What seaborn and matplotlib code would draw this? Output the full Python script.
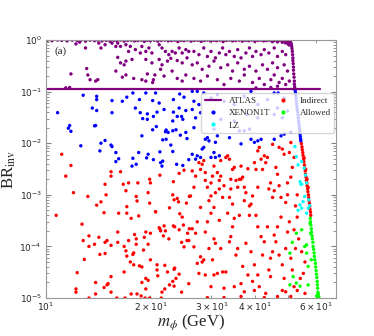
import matplotlib
matplotlib.use("Agg")
import matplotlib.pyplot as plt
from matplotlib.lines import Line2D
import pandas as pd
import seaborn as sns

sns.set_style("ticks")

# ATLAS limit on the invisible branching ratio
atlas_m = [10.0, 61.6]
atlas_br = [0.11, 0.11]

# (m_phi [GeV], BR_inv)
purple_pts = [
    # dense band near BR = 1
    (10.1, 0.99), (10.4, 0.97), (10.8, 0.995), (11.1, 0.98), (11.5, 0.96), (11.9, 0.99),
    (12.3, 0.975), (12.6, 0.985), (13.0, 0.95), (13.4, 0.99), (13.8, 0.97), (14.1, 0.995),
    (14.5, 0.96), (14.9, 0.985), (15.3, 0.94), (15.7, 0.99), (16.0, 0.97), (16.4, 0.995),
    (16.8, 0.95), (17.2, 0.98), (17.6, 0.99), (18.0, 0.96), (18.4, 0.975), (18.8, 0.995),
    (19.2, 0.94), (19.6, 0.985), (20.0, 0.97), (20.5, 0.99), (21.0, 0.95), (21.5, 0.98),
    (22.0, 0.995), (22.5, 0.96), (23.0, 0.975), (23.5, 0.99), (24.0, 0.93), (24.5, 0.985),
    (25.0, 0.97), (25.6, 0.995), (26.2, 0.95), (26.8, 0.98), (27.4, 0.99), (28.0, 0.94),
    (28.6, 0.975), (29.2, 0.995), (29.8, 0.96), (30.4, 0.985), (31.0, 0.97), (31.7, 0.99),
    (32.4, 0.93), (33.1, 0.98), (33.8, 0.995), (34.5, 0.96), (35.2, 0.975), (36.0, 0.99),
    (36.8, 0.95), (37.6, 0.985), (38.4, 0.97), (39.2, 0.995), (40.0, 0.94), (40.8, 0.98),
    (41.6, 0.99), (42.4, 0.96), (43.2, 0.975), (44.0, 0.995), (44.8, 0.95), (45.6, 0.985),
    (46.4, 0.97), (47.2, 0.99), (48.0, 0.96), (48.8, 0.98), (49.6, 0.97), (50.2, 0.95),
    (45.0, 0.93), (46.5, 0.92), (48.0, 0.90), (49.0, 0.88), (49.8, 0.85), (50.2, 0.80),
    # sparse points
    (12.2, 0.84), (12.5, 0.91), (13.0, 0.70), (14.2, 0.87), (14.4, 0.70), (14.8, 0.81),
    (15.5, 0.87), (15.9, 0.75), (16.1, 0.87), (16.4, 0.75), (17.0, 0.81), (17.3, 0.60),
    (17.5, 0.75), (18.1, 0.65), (18.7, 0.56), (18.9, 0.75), (19.4, 0.60), (19.8, 0.70),
    (20.2, 0.56), (21.2, 0.81), (21.6, 0.70), (22.1, 0.60), (22.6, 0.52), (23.1, 0.60),
    (23.6, 0.56), (24.2, 0.70), (24.7, 0.56), (25.3, 0.65), (25.8, 0.60),
    (16.1, 0.46), (16.4, 0.36), (17.0, 0.39), (17.7, 0.42), (16.8, 0.33), (19.4, 0.42),
    (20.2, 0.36), (21.2, 0.42), (21.6, 0.33), (22.4, 0.39), (22.9, 0.44), (23.9, 0.40),
    (24.7, 0.36), (25.5, 0.45),
    (11.8, 0.22), (13.1, 0.28), (13.2, 0.21), (13.4, 0.17), (13.9, 0.16), (14.1, 0.17),
    (15.9, 0.25), (16.6, 0.19), (17.0, 0.21), (17.9, 0.18), (18.9, 0.17), (19.4, 0.16),
    (19.6, 0.22), (20.4, 0.17), (20.3, 0.15), (20.6, 0.21), (21.4, 0.27), (21.9, 0.20),
    (23.1, 0.25), (23.9, 0.18), (24.7, 0.16), (25.3, 0.21), (11.4, 0.118), (11.7, 0.12),
    (26.7, 0.60), (27.6, 0.52), (28.5, 0.70), (29.2, 0.48), (29.9, 0.60), (30.8, 0.45),
    (31.6, 0.56), (32.3, 0.70), (33.0, 0.52), (33.8, 0.60), (34.9, 0.48), (35.7, 0.65),
    (36.5, 0.45), (37.7, 0.56), (38.6, 0.70), (39.4, 0.48), (40.3, 0.60), (41.7, 0.52),
    (42.6, 0.65), (43.9, 0.56), (45.5, 0.70), (46.5, 0.48), (48.0, 0.60), (49.1, 0.52),
    (26.4, 0.33), (27.3, 0.36), (28.2, 0.27), (29.5, 0.31), (30.5, 0.39), (31.9, 0.29),
    (33.4, 0.33), (34.5, 0.25), (35.7, 0.36), (37.3, 0.27), (38.6, 0.31), (40.3, 0.25),
    (42.1, 0.33), (43.5, 0.27), (45.0, 0.36), (46.5, 0.29), (48.6, 0.33), (49.7, 0.25),
    (26.7, 0.18), (27.9, 0.16), (29.2, 0.20), (31.2, 0.17), (32.6, 0.137), (34.1, 0.18),
    (36.1, 0.16), (37.3, 0.21), (39.4, 0.15), (41.2, 0.18), (42.6, 0.137), (44.5, 0.17),
    (45.5, 0.21), (47.0, 0.15), (48.0, 0.18), (49.1, 0.137), (50.3, 0.16), (46.5, 0.127),
    (44.5, 0.12), (40.3, 0.118),
    # kinematic edge
    (50.0, 0.97), (50.3, 0.95), (50.6, 0.92), (50.8, 0.88), (51.0, 0.82), (51.1, 0.75),
    (51.2, 0.68), (51.3, 0.60), (51.4, 0.52), (51.5, 0.45), (51.5, 0.40), (51.6, 0.35),
    (51.7, 0.30), (51.7, 0.26), (51.8, 0.22), (51.9, 0.19), (52.0, 0.16), (52.0, 0.14),
    (52.1, 0.125), (52.2, 0.113),
]

blue_pts = [
    (12.8, 0.085), (14.0, 0.081), (14.0, 0.070), (15.5, 0.067), (16.6, 0.065), (17.1, 0.078),
    (17.8, 0.094), (18.6, 0.070), (19.4, 0.094), (20.7, 0.094), (20.3, 0.067), (21.2, 0.060),
    (21.9, 0.045), (23.3, 0.070), (24.3, 0.090), (25.0, 0.078), (24.2, 0.048), (10.8, 0.039),
    (13.6, 0.048), (14.0, 0.043), (15.5, 0.039), (18.1, 0.048), (18.7, 0.039), (19.6, 0.037),
    (20.4, 0.033), (20.9, 0.040), (23.3, 0.040), (23.9, 0.033), (24.6, 0.033), (25.3, 0.043),
    (19.0, 0.030), (19.6, 0.029), (23.2, 0.027), (24.8, 0.029), (11.7, 0.022), (13.9, 0.022),
    (11.6, 0.0195), (11.8, 0.017), (13.8, 0.0217), (12.6, 0.0089), (14.4, 0.0100),
    (14.8, 0.0113), (15.4, 0.0092), (15.5, 0.0086), (14.3, 0.0071), (15.9, 0.0066),
    (16.2, 0.0050), (15.9, 0.0044), (18.9, 0.0139), (20.3, 0.0182), (20.8, 0.021),
    (22.1, 0.0167), (22.2, 0.018), (22.5, 0.0162), (23.2, 0.0174), (23.7, 0.0182),
    (24.4, 0.0143), (25.3, 0.0162), (25.5, 0.0123), (21.7, 0.0116), (22.2, 0.0119),
    (22.9, 0.0092), (18.5, 0.0066), (19.7, 0.0061), (19.5, 0.0052), (20.4, 0.0048),
    (21.3, 0.0068), (21.4, 0.0042), (21.7, 0.0045), (21.6, 0.0036), (23.8, 0.0039),
    (24.8, 0.0037), (25.8, 0.0048), (17.8, 0.0051), (18.2, 0.0039), (17.7, 0.0036),
    (23.2, 0.0069),
    (26.4, 0.101), (27.3, 0.101), (28.5, 0.094), (39.0, 0.101), (45.5, 0.094), (46.7, 0.094),
    (26.7, 0.065), (27.6, 0.056), (26.4, 0.045), (27.0, 0.031), (27.9, 0.039),
    (29.9, 0.075), (31.2, 0.087), (32.6, 0.065), (34.9, 0.056), (37.3, 0.081), (40.8, 0.056),
    (43.5, 0.070), (46.5, 0.048), (48.6, 0.075), (48.0, 0.031), (45.5, 0.036), (40.8, 0.031),
    (38.0, 0.036), (34.9, 0.027), (31.9, 0.029), (49.7, 0.042),
    (26.7, 0.020), (28.8, 0.0119), (29.2, 0.0128), (29.5, 0.0111), (30.8, 0.0104),
    (31.2, 0.0139), (30.5, 0.0187), (33.8, 0.0128), (36.5, 0.0097), (36.1, 0.0174),
    (37.3, 0.0174), (38.6, 0.0187), (39.0, 0.0119), (39.9, 0.0104), (40.8, 0.0111),
    (41.7, 0.0119), (45.5, 0.0119), (47.6, 0.0139), (48.6, 0.0150), (50.8, 0.0162),
    (27.3, 0.0057), (27.0, 0.0049), (27.9, 0.0053), (28.5, 0.0083), (29.9, 0.0053),
    (30.5, 0.0066), (30.8, 0.0053), (31.6, 0.0057), (28.2, 0.0077), (26.4, 0.0061),
    # kinematic edge
    (52.3, 0.105), (52.4, 0.095), (52.5, 0.085), (52.6, 0.075), (52.7, 0.066), (52.8, 0.058),
    (52.9, 0.051), (53.0, 0.045), (53.2, 0.040), (53.3, 0.035), (53.4, 0.031), (53.5, 0.027),
    (53.6, 0.024), (53.7, 0.021), (53.8, 0.019), (53.9, 0.017), (54.0, 0.015), (54.1, 0.0135),
    (54.2, 0.012), (54.3, 0.011),
]

cyan_pts = [
    (52.2, 8.6e-3), (52.7, 5.5e-3), (54.6, 4.4e-3), (53.3, 3.8e-3), (54.0, 1.8e-3),
    (54.6, 1.6e-3), (56.4, 1.7e-3), (55.1, 7.4e-4), (54.0, 6.4e-4), (54.6, 5.5e-4),
    (55.7, 9.3e-4), (57.0, 5.5e-4), (56.4, 4.4e-4), (53.3, 5.0e-4), (55.5, 3.3e-3),
    (56.0, 2.4e-3), (57.2, 8.0e-4), (57.6, 6.2e-4), (54.3, 1.6e-3),
]

red_pts = [
    (11.1, 0.0061), (11.8, 0.0037), (11.4, 0.0023), (12.0, 0.0011), (13.2, 9.3e-4),
    (14.0, 6.3e-4), (14.4, 7.3e-4), (14.9, 1.0e-3), (15.4, 0.0028), (15.4, 0.0023),
    (16.4, 0.0028), (14.8, 0.0016), (16.7, 0.0016), (17.0, 0.0012), (17.3, 0.0017),
    (17.1, 5.9e-4), (18.4, 0.0017), (18.2, 9.3e-4), (18.3, 7.6e-4), (19.7, 0.0011),
    (19.9, 0.0020), (20.0, 0.0017), (19.9, 6.9e-4), (20.7, 4.7e-4), (21.3, 0.0024),
    (23.3, 0.0018), (23.2, 0.0010), (23.4, 8.0e-4), (23.9, 8.5e-4), (24.1, 7.3e-4),
    (24.2, 0.0026), (25.0, 0.0030), (22.7, 5.6e-4), (25.4, 6.9e-4), (25.9, 9.3e-4),
    (10.7, 4.0e-4), (12.7, 2.7e-4), (13.3, 1.6e-4), (12.8, 1.3e-4), (13.3, 1.0e-4),
    (13.8, 1.1e-4), (14.2, 1.5e-4), (14.3, 7.0e-5), (14.7, 4.5e-4), (14.8, 1.2e-4),
    (15.0, 1.3e-4), (15.4, 1.05e-4), (14.8, 7.3e-5), (16.1, 1.9e-4), (16.1, 1.2e-4),
    (16.2, 4.4e-4), (17.1, 4.4e-4), (16.8, 1.0e-4), (17.0, 8.2e-5), (17.1, 6.5e-5),
    (17.3, 1.3e-4), (17.6, 3.5e-4), (17.9, 7.5e-5), (17.8, 7.0e-5), (18.0, 1.7e-4),
    (18.2, 1.1e-4), (18.2, 1.4e-4), (18.5, 3.9e-4), (19.1, 8.5e-5), (19.4, 1.9e-4),
    (19.2, 1.5e-4), (19.7, 1.1e-4), (20.0, 1.8e-4), (20.0, 5.5e-5), (20.7, 4.7e-4),
    (21.2, 2.3e-4), (21.3, 2.2e-4), (21.9, 2.5e-4), (21.4, 2.0e-4), (21.8, 1.6e-4),
    (22.1, 2.0e-4), (22.6, 1.4e-4), (23.3, 2.5e-4), (23.5, 2.4e-4), (24.2, 2.1e-4),
    (24.3, 4.3e-4), (24.7, 3.7e-4), (24.9, 2.6e-4), (24.6, 1.2e-4), (25.0, 9.8e-5),
    (25.5, 1.3e-4), (25.6, 1.8e-4), (25.8, 1.3e-4), (25.9, 2.2e-4), (12.9, 5.6e-5),
    (12.3, 3.1e-5), (12.2, 1.5e-5), (12.2, 1.3e-5), (13.9, 2.0e-5), (13.9, 1.2e-5),
    (14.7, 1.6e-5), (15.0, 1.8e-5), (15.1, 1.9e-5), (15.4, 2.6e-5), (15.4, 1.3e-5),
    (16.8, 3.2e-5), (17.5, 5.0e-5), (17.9, 4.4e-5), (18.6, 4.2e-5), (18.9, 4.0e-5),
    (18.9, 2.0e-5), (19.4, 2.4e-5), (19.7, 2.2e-5), (19.4, 1.5e-5), (20.9, 4.4e-5),
    (20.9, 3.5e-5), (21.0, 2.7e-5), (22.0, 4.3e-5), (22.4, 3.2e-5), (23.4, 3.6e-5),
    (23.5, 3.8e-5), (24.2, 2.9e-5), (23.7, 2.4e-5), (22.7, 1.8e-5), (23.2, 2.1e-5),
    (22.0, 1.5e-5), (21.6, 1.3e-5), (23.4, 1.7e-5), (24.6, 1.3e-5), (25.8, 1.9e-5),
    (17.6, 1.2e-5), (18.3, 1.2e-5), (18.8, 1.1e-5), (16.0, 1.0e-5), (16.9, 1.0e-5),
    (19.3, 1.0e-5), (19.9, 1.0e-5), (21.5, 1.0e-5), (13.3, 1.0e-5),
    (26.4, 2.9e-3), (26.7, 1.4e-3), (26.1, 9.5e-4), (27.0, 2.3e-3), (27.6, 4.2e-3),
    (27.9, 3.1e-3), (28.2, 3.9e-3), (28.5, 4.6e-3), (28.8, 2.7e-3), (28.8, 1.9e-3),
    (29.2, 1.4e-3), (29.5, 7.7e-4), (29.9, 1.7e-3), (30.2, 2.3e-3), (30.5, 3.6e-3),
    (30.8, 1.1e-3), (31.2, 2.7e-3), (31.6, 1.9e-3), (31.9, 4.6e-3), (31.9, 2.3e-3),
    (32.3, 8.9e-4), (32.6, 1.5e-3), (33.0, 5.3e-3), (33.4, 5.7e-3), (33.8, 4.9e-3),
    (34.1, 2.0e-3), (34.1, 1.3e-3), (34.5, 3.1e-3), (34.9, 3.4e-3), (35.3, 1.9e-3),
    (35.7, 1.4e-3), (36.1, 2.0e-3), (36.5, 2.0e-3), (36.5, 3.6e-3), (36.9, 2.2e-3),
    (37.3, 1.4e-3), (37.3, 7.7e-4), (37.7, 1.1e-3), (38.2, 3.2e-3), (38.6, 6.1e-4),
    (39.0, 6.6e-4), (39.4, 9.5e-4), (39.9, 4.2e-3), (40.3, 3.1e-3), (40.8, 7.1e-3),
    (41.2, 8.3e-3), (41.7, 4.9e-3), (42.1, 3.1e-3), (42.6, 5.7e-3), (43.0, 4.2e-3),
    (43.5, 5.3e-3), (43.9, 1.3e-3), (44.4, 1.7e-3), (45.0, 8.9e-4), (45.5, 1.2e-3),
    (46.0, 3.4e-3), (46.5, 2.5e-3), (47.0, 1.5e-3), (47.6, 8.9e-4), (48.0, 7.7e-3),
    (48.6, 6.1e-3), (49.1, 7.1e-4), (49.7, 1.0e-3), (50.3, 6.6e-3), (50.8, 1.03e-2),
    (50.8, 2.2e-3), (51.3, 3.4e-3), (51.9, 5.3e-3), (52.4, 6.1e-4), (53.0, 1.0e-3),
    (49.7, 1.7e-3), (45.0, 9.5e-3), (47.0, 8.3e-3), (40.8, 1.4e-3), (34.5, 6.6e-4),
    (31.6, 1.3e-3), (30.5, 5.7e-4), (29.9, 9.5e-4), (33.8, 8.9e-4), (27.9, 5.7e-4),
    (26.4, 2.2e-4), (27.0, 1.8e-4), (26.7, 9.8e-5), (27.3, 4.7e-5), (27.6, 3.0e-5),
    (27.9, 6.3e-5), (28.2, 5.0e-5), (28.5, 5.5e-5), (28.8, 2.8e-5), (29.2, 3.0e-4),
    (28.8, 1.9e-4), (29.5, 9.1e-5), (29.9, 1.66e-5), (30.2, 5.5e-5), (30.5, 1.4e-4),
    (30.8, 1.15e-4), (31.2, 3.0e-5), (31.6, 3.2e-4), (31.9, 9.1e-5), (32.3, 3.2e-5),
    (32.6, 1.55e-5), (33.0, 3.2e-5), (33.4, 4.4e-4), (33.8, 1.23e-4), (34.1, 1.55e-4),
    (34.5, 2.4e-4), (34.9, 3.5e-4), (35.3, 6.8e-5), (35.7, 9.1e-5), (36.1, 4.0e-4),
    (36.5, 1.9e-5), (36.9, 4.1e-5), (37.3, 1.32e-5), (37.7, 1.15e-4), (38.2, 2.8e-5),
    (38.6, 4.0e-4), (39.0, 7.9e-5), (39.4, 2.1e-5), (39.9, 1.4e-5), (40.3, 4.0e-4),
    (40.8, 2.8e-5), (41.2, 1.66e-5), (41.7, 1.55e-4), (42.1, 6.8e-5), (42.6, 1.23e-4),
    (43.0, 1.23e-5), (43.5, 2.4e-4), (43.9, 3.5e-5), (44.4, 5.9e-5), (45.0, 7.9e-5),
    (45.5, 1.66e-4), (46.0, 1.23e-4), (46.5, 2.4e-4), (47.0, 6.8e-5), (47.6, 3.7e-4),
    (48.0, 4.4e-5), (48.6, 2.4e-5), (49.1, 1.32e-5), (49.7, 1.9e-4), (50.3, 3.0e-4),
    (50.8, 5.9e-5), (51.3, 3.5e-5), (51.9, 1.66e-5), (52.4, 9.1e-5), (53.0, 3.7e-4),
    (53.5, 1.4e-4), (54.1, 2.4e-5), (54.6, 7.9e-5), (55.2, 3.0e-5), (55.8, 5.0e-5),
    (50.8, 1.07e-5), (46.5, 1.07e-5), (42.6, 1.02e-5), (36.5, 1.07e-5), (32.6, 1.02e-5),
    (29.2, 1.02e-5), (30.5, 2.8e-5), (34.9, 1.66e-5), (39.9, 4.4e-5), (44.4, 2.6e-5),
    (48.0, 1.4e-5), (53.0, 1.4e-5), (55.8, 1.23e-5), (27.3, 3.0e-4), (29.9, 4.4e-4),
    (40.8, 2.4e-4), (49.1, 9.1e-5), (51.9, 2.1e-4),
    # kinematic edge
    (54.5, 0.0098), (54.7, 0.0085), (54.8, 0.0075), (55.0, 0.0066), (55.1, 0.0058),
    (55.3, 0.0050), (55.4, 0.0044), (55.6, 0.0038), (55.7, 0.0033), (55.9, 0.0029),
    (56.0, 0.0025), (56.2, 0.0022), (56.3, 0.0019), (56.5, 0.0017), (56.6, 0.0015),
    (56.8, 0.0013), (56.9, 0.00115), (57.1, 0.0010), (57.2, 8.8e-4), (57.3, 7.7e-4),
    (57.5, 6.8e-4), (57.6, 6.0e-4), (57.7, 5.2e-4), (57.9, 4.6e-4), (58.0, 4.0e-4),
    (55.5, 0.0052), (56.1, 0.0031), (56.6, 0.0020), (57.0, 0.0014),
]

green_pts = [
    (57.8, 3.5e-4), (57.9, 3.0e-4), (58.0, 2.6e-4), (58.2, 2.2e-4), (58.3, 1.9e-4),
    (58.5, 1.6e-4), (58.6, 1.4e-4), (58.8, 1.2e-4), (58.9, 1.0e-4), (59.1, 8.8e-5),
    (59.3, 7.5e-5), (59.4, 6.4e-5), (59.6, 5.5e-5), (59.8, 4.7e-5), (59.9, 4.0e-5),
    (60.1, 3.4e-5), (60.2, 2.9e-5), (60.4, 2.5e-5), (60.5, 2.1e-5), (60.6, 1.8e-5),
    (60.7, 1.55e-5), (60.8, 1.3e-5), (60.9, 1.15e-5), (61.0, 1.02e-5), (60.3, 1.1e-5),
    (60.6, 1.05e-5), (61.2, 1.05e-5), (60.9, 1.2e-5),
    (51.3, 1.2e-4), (52.7, 1.8e-4), (54.6, 2.1e-4), (55.7, 1.0e-4), (56.4, 7.4e-5),
    (50.5, 7.4e-5), (51.6, 2.6e-5), (52.7, 1.95e-5), (54.0, 1.7e-5), (50.5, 1.8e-5),
    (57.0, 1.8e-5), (58.2, 5.5e-5), (57.0, 4.1e-5), (57.9, 1.8e-4), (57.7, 2.8e-4),
    (56.4, 1.07e-4),
]

groups = [("ATLAS", purple_pts), ("XENON1T", blue_pts), ("Indirect", red_pts),
          ("LZ", cyan_pts), ("Allowed", green_pts)]
colors = {"ATLAS": "#800080", "XENON1T": "blue", "LZ": "cyan",
          "Indirect": "red", "Allowed": "#00ff00"}

rows = []
for name, pts in groups:
    for m, br in pts:
        rows.append((m, br, name))
df = pd.DataFrame(rows, columns=["m", "br", "group"])

fig, ax = plt.subplots(figsize=(3.74, 3.36), dpi=100)
fig.subplots_adjust(left=0.123, right=0.898, bottom=0.113, top=0.881)

sns.scatterplot(data=df, x="m", y="br", hue="group", palette=colors, s=6,
                linewidth=0, legend=False, ax=ax)
sns.lineplot(x=atlas_m, y=atlas_br, color="#800080", lw=1.6, ax=ax)

ax.set_xscale("log")
ax.set_yscale("log")
ax.set_xlim(10, 68.5)
ax.set_ylim(1e-5, 1)

ax.tick_params(which="both", direction="in", top=True, right=True,
               labelsize=6.5, color="0.5")
ax.tick_params(axis="x", which="both", pad=1.5)
ax.tick_params(axis="y", which="both", pad=3)
for sp in ax.spines.values():
    sp.set_color("0.6")

serif = "Liberation Serif"
ax.set_xlabel(r"$m_\phi$ (GeV)", fontsize=12, family=serif, math_fontfamily="stix", labelpad=0)
ax.set_ylabel(r"BR$_{\rm inv}$", fontsize=12, family=serif, math_fontfamily="stix", labelpad=1)
ax.text(0.03, 0.975, "(a)", transform=ax.transAxes, va="top", fontsize=8, family=serif)

handles = [
    Line2D([], [], color="#800080", lw=1.6, label="ATLAS"),
    Line2D([], [], marker="o", ls="", color="blue", markersize=2, label="XENON1T"),
    Line2D([], [], marker="o", ls="", color="cyan", markersize=2, label="LZ"),
    Line2D([], [], marker="o", ls="", color="red", markersize=2, label="Indirect"),
    Line2D([], [], marker="o", ls="", color="#00ff00", markersize=2, label="Allowed"),
]
ax.legend(handles=handles, ncol=2, loc="upper left", bbox_to_anchor=(0.535, 0.795),
          prop={"family": serif, "size": 6.5}, framealpha=0.8, edgecolor="0.8",
          handlelength=1.8, handletextpad=0.9, columnspacing=0.5, labelspacing=0.45,
          borderpad=0.4, borderaxespad=0)

fig.savefig("out.png", dpi=100)
